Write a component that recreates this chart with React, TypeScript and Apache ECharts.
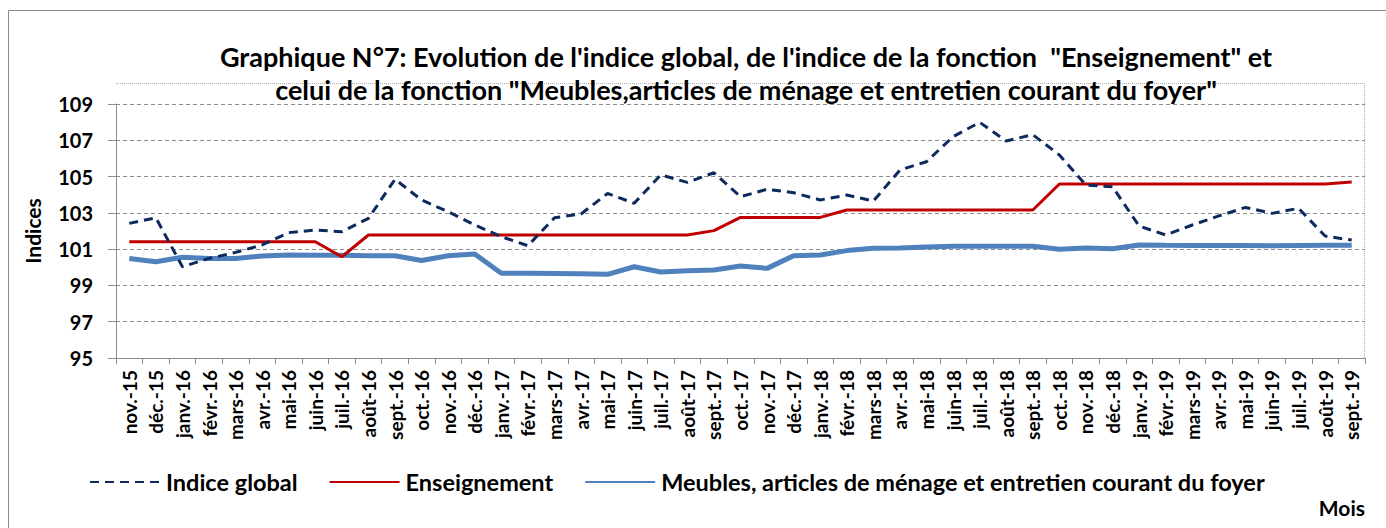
import React, { useEffect, useRef } from "react";
import * as echarts from "echarts";

const months = [
  "nov.-15", "déc.-15",
  "janv.-16", "févr.-16", "mars-16", "avr.-16", "mai-16", "juin-16", "juil.-16", "août-16", "sept.-16", "oct.-16", "nov.-16", "déc.-16",
  "janv.-17", "févr.-17", "mars-17", "avr.-17", "mai-17", "juin-17", "juil.-17", "août-17", "sept.-17", "oct.-17", "nov.-17", "déc.-17",
  "janv.-18", "févr.-18", "mars-18", "avr.-18", "mai-18", "juin-18", "juil.-18", "août-18", "sept.-18", "oct.-18", "nov.-18", "déc.-18",
  "janv.-19", "févr.-19", "mars-19", "avr.-19", "mai-19", "juin-19", "juil.-19", "août-19", "sept.-19",
];

const indiceGlobal = [
  102.42, 102.73,
  100.03, 100.49, 100.82, 101.23, 101.91, 102.05, 101.96, 102.70, 104.85, 103.71, 103.06, 102.33,
  101.69, 101.19, 102.73, 102.94, 104.07, 103.53, 105.09, 104.68, 105.21, 103.89, 104.30, 104.11,
  103.71, 103.98, 103.65, 105.36, 105.82, 107.20, 107.99, 106.96, 107.31, 106.19, 104.53, 104.44,
  102.27, 101.78, 102.33, 102.83, 103.30, 102.97, 103.25, 101.72, 101.50,
];

const enseignement = [
  101.41, 101.41,
  101.41, 101.41, 101.41, 101.41, 101.41, 101.41, 100.58, 101.78, 101.78, 101.78, 101.78, 101.78,
  101.78, 101.78, 101.78, 101.78, 101.78, 101.78, 101.78, 101.78, 102.02, 102.75, 102.75, 102.75,
  102.75, 103.16, 103.16, 103.16, 103.16, 103.16, 103.16, 103.16, 103.16, 104.59, 104.59, 104.59,
  104.59, 104.59, 104.59, 104.59, 104.59, 104.59, 104.59, 104.59, 104.70,
];

const meubles = [
  100.49, 100.31,
  100.55, 100.49, 100.49, 100.62, 100.68, 100.66, 100.66, 100.64, 100.64, 100.37, 100.64, 100.73,
  99.67, 99.67, 99.66, 99.65, 99.61, 100.03, 99.74, 99.81, 99.85, 100.07, 99.94, 100.64,
  100.68, 100.92, 101.05, 101.06, 101.12, 101.16, 101.16, 101.16, 101.16, 100.99, 101.06, 101.02,
  101.23, 101.21, 101.20, 101.20, 101.20, 101.19, 101.20, 101.21, 101.22,
];

const seriesNames = [
  "Indice global",
  "Enseignement",
  "Meubles, articles de ménage et entretien courant du foyer",
];

const FONT = "Lato, 'Noto Sans', sans-serif";

export default function App() {
  const ref = useRef<HTMLDivElement>(null);

  useEffect(() => {
    if (!ref.current) return;
    const chart = echarts.init(ref.current, null, { renderer: "svg" });
    chart.setOption({
      animation: false,
      backgroundColor: "#ffffff",
      textStyle: { fontFamily: FONT },
      title: {
        text:
          "Graphique N°7: Evolution de l'indice global, de l'indice de la fonction  \"Enseignement\" et\ncelui de la fonction \"Meubles,articles de ménage et entretien courant du foyer\"",
        left: 741,
        textAlign: "center",
        top: 35,
        textStyle: {
          fontFamily: FONT,
          fontWeight: "bold",
          fontSize: 27,
          lineHeight: 33,
          color: "#000",
        },
      },
      grid: { left: 116, right: 21, top: 104, bottom: 170, containLabel: false },
      legend: {
        top: 465,
        left: 84,
        itemWidth: 70,
        itemHeight: 12,
        itemGap: 31,
        itemStyle: { opacity: 0 },
        textStyle: { fontFamily: FONT, fontWeight: "bold", fontSize: 23.5, color: "#000", padding: [0, 0, 0, 1] },
        data: seriesNames,
      },
      xAxis: {
        type: "category",
        data: months,
        boundaryGap: true,
        axisLine: { lineStyle: { color: "#8c8c8c", width: 1 } },
        axisTick: { show: true, alignWithLabel: false, length: 6, lineStyle: { color: "#8c8c8c" } },
        axisLabel: {
          interval: 0,
          rotate: 90,
          margin: 12,
          fontFamily: FONT,
          fontWeight: "bold",
          fontSize: 19,
          color: "#000",
        },
      },
      yAxis: {
        type: "value",
        min: 95,
        max: 109,
        interval: 2,
        name: "Indices",
        nameLocation: "middle",
        nameGap: 73,
        nameRotate: 90,
        nameTextStyle: { fontFamily: FONT, fontWeight: "bold", fontSize: 21, color: "#000" },
        axisLine: { show: true, lineStyle: { color: "#8c8c8c" } },
        axisTick: { show: true, length: 8, lineStyle: { color: "#8c8c8c" } },
        axisLabel: { margin: 23, fontFamily: FONT, fontWeight: "bold", fontSize: 20, color: "#000" },
        splitLine: { show: true, lineStyle: { color: "#8c8c8c", type: [4, 3], width: 1 } },
      },
      series: [
        {
          name: seriesNames[0],
          type: "line",
          data: indiceGlobal,
          symbol: "none",
          z: 5,
          itemStyle: { color: "#0d2a5e" },
          lineStyle: { color: "#0d2a5e", width: 3, type: [9, 6] },
        },
        {
          name: seriesNames[1],
          type: "line",
          data: enseignement,
          symbol: "none",
          z: 4,
          itemStyle: { color: "#c00000" },
          lineStyle: { color: "#c00000", width: 3 },
        },
        {
          name: seriesNames[2],
          type: "line",
          data: meubles,
          symbol: "none",
          z: 3,
          itemStyle: { color: "#4f81bd" },
          lineStyle: { color: "#4f81bd", width: 5 },
        },
      ],
      graphic: [
        {
          type: "rect",
          shape: { x: 8.5, y: 10.5, width: 1390, height: 520 },
          style: { fill: "none", stroke: "#8c8c8c", lineWidth: 1 },
          silent: true,
        },
        {
          type: "polyline",
          shape: { points: [[116, 83.5], [1364.5, 83.5], [1364.5, 358]] },
          style: { fill: "none", stroke: "#b0b0b0", lineWidth: 1, lineDash: [1, 1] },
          silent: true,
        },
        {
          type: "text",
          right: 21,
          top: 497,
          style: { text: "Mois", fontFamily: FONT, fontWeight: "bold", fontSize: 21, fill: "#000" },
        },
      ],
    });
    return () => chart.dispose();
  }, []);

  return (
    <div
      ref={ref}
      style={{ position: "fixed", left: 0, top: 0, width: 1386, height: 528 }}
    />
  );
}
